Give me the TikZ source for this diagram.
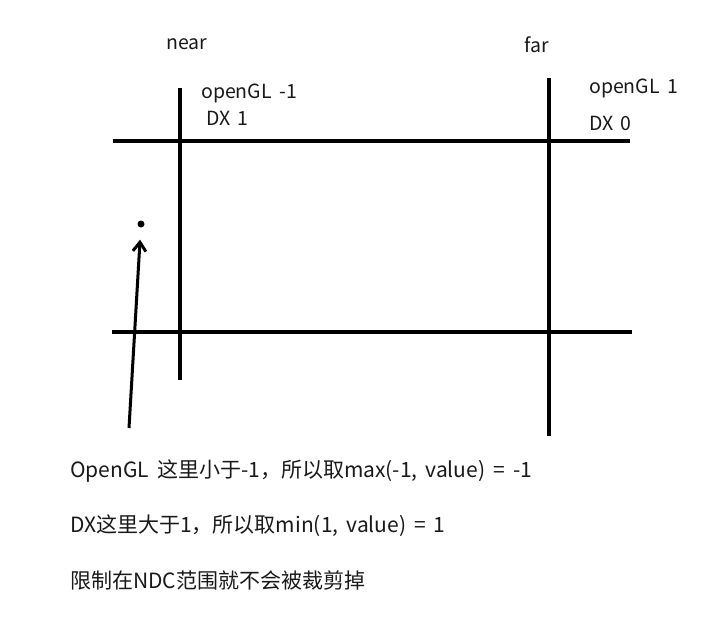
\documentclass[tikz,border=0pt]{standalone}
\usepackage{fontspec}
\newfontfamily\cjk{Noto Sans CJK SC}
\newfontfamily\cjknote[WordSpace=1.7]{Noto Sans CJK SC}
\usetikzlibrary{arrows.meta, positioning}

\begin{document}
\begin{tikzpicture}[x=1pt,y=-1pt,
        stroke/.style={line width=3.4pt,black},
        lbl/.style={font=\cjk\fontsize{19.5}{21}\selectfont,inner sep=0pt,text=black!90},
        note/.style={font=\cjknote\fontsize{21}{23}\selectfont,inner sep=0pt,anchor=west,text=black!90},
        arrow/.style={-{Straight Barb[length=9pt,width=13pt,line width=3pt]},line width=3pt}]
        \useasboundingbox (0,0) rectangle (720,619);
        % near / far planes and the clip range
        \draw[stroke] (180,88) -- (180,380);
        \draw[stroke] (549,78) -- (549,436);
        \draw[stroke] (113,141) -- (630,141);
        \draw[stroke] (112,332) -- (632,332);
        \node[lbl] (near) at (187,44) {near};
        \node[lbl] (far) at (537,45) {far};
        \node[lbl,anchor=west] (glnear) at (201,93) {openGL -1};
        \node[lbl,anchor=west] (dxnear) at (206,118) {DX 1};
        \node[lbl,anchor=west] (glfar) at (589,88) {openGL 1};
        \node[lbl,anchor=west] (dxfar) at (589,123) {DX 0};
        % vertex outside near
        \node[circle,fill=black,inner sep=0pt,minimum size=7pt] (pt) at (141,224) {};
        \coordinate (tail) at (129,428);
        \draw[arrow,shorten >=12pt] (tail) -- (pt);
        \node[note] (l1) at (70,471) {OpenGL 这里小于-1，所以取max(-1, value) = -1};
        \node[note] (l2) at (70,526) {DX这里大于1，所以取min(1, value) = 1};
        \node[note] (l3) at (70,580) {限制在NDC范围就不会被裁剪掉};
\end{tikzpicture}
\end{document}
